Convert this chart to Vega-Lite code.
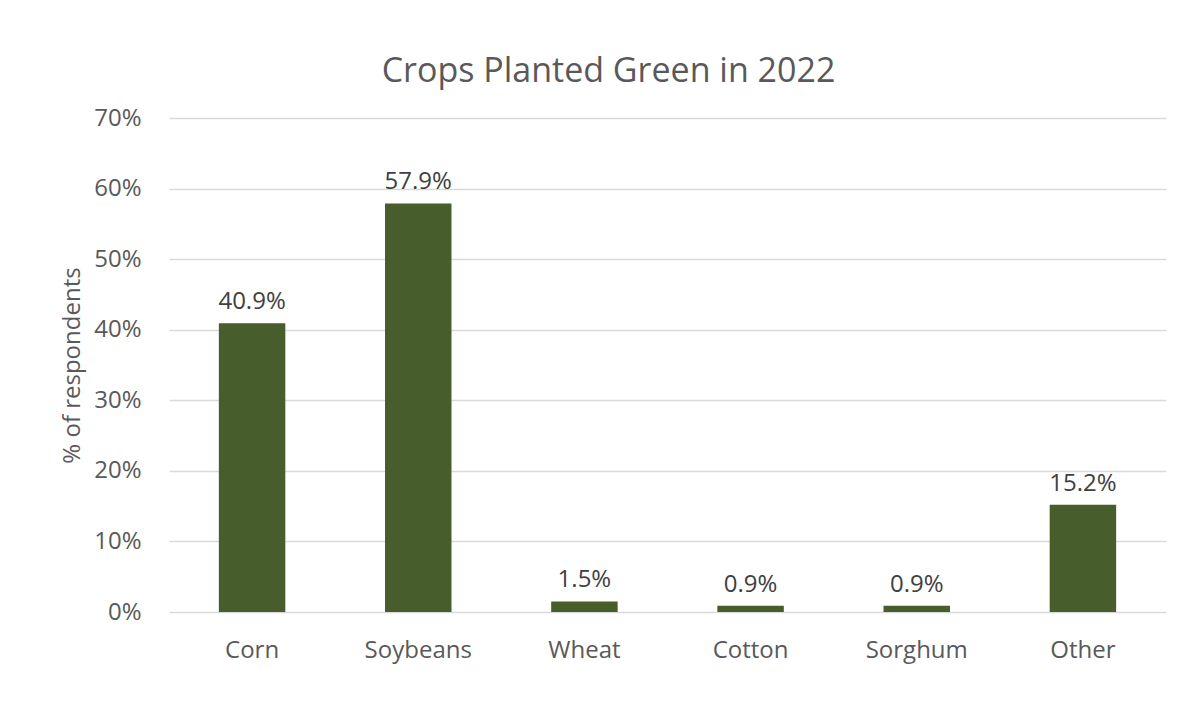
{
  "$schema": "https://vega.github.io/schema/vega-lite/v6.json",
  "autosize": "none",
  "width": 997,
  "height": 494,
  "padding": {"left": 169, "top": 118, "right": 32, "bottom": 98},
  "background": "white",
  "config": {"view": {"stroke": null}, "font": "Open Sans"},
  "title": {
    "text": "Crops Planted Green in 2022",
    "fontSize": 34,
    "fontWeight": "normal",
    "color": "#595959",
    "font": "Open Sans",
    "anchor": "middle",
    "frame": "group",
    "dx": -59,
    "offset": 17
  },
  "data": {
    "values": [
      {"crop": "Corn", "share": 0.409},
      {"crop": "Soybeans", "share": 0.579},
      {"crop": "Wheat", "share": 0.015},
      {"crop": "Cotton", "share": 0.009},
      {"crop": "Sorghum", "share": 0.009},
      {"crop": "Other", "share": 0.152}
    ]
  },
  "encoding": {
    "x": {
      "field": "crop",
      "type": "nominal",
      "sort": null,
      "scale": {"paddingInner": 0.6, "paddingOuter": 0.3},
      "axis": {
        "title": null,
        "labelAngle": 0,
        "labelFontSize": 24,
        "labelColor": "#595959",
        "labelPadding": 26,
        "ticks": false,
        "domain": false
      }
    },
    "y": {
      "field": "share",
      "type": "quantitative",
      "scale": {"domain": [0, 0.7]},
      "axis": {
        "title": "% of respondents",
        "titleFontSize": 24,
        "titleFontWeight": "normal",
        "titleColor": "#595959",
        "titlePadding": 9,
        "format": ".0%",
        "values": [0, 0.1, 0.2, 0.3, 0.4, 0.5, 0.6, 0.7],
        "labelOverlap": false,
        "labelFontSize": 24,
        "labelColor": "#595959",
        "labelPadding": 28,
        "ticks": false,
        "domain": false,
        "grid": true,
        "gridColor": "#D9D9D9",
        "gridWidth": 1.3
      }
    }
  },
  "layer": [
    {"mark": {"type": "bar", "color": "#485D2C"}},
    {
      "mark": {"type": "text", "baseline": "alphabetic", "dy": -14, "fontSize": 24, "color": "#404040"},
      "encoding": {"text": {"field": "share", "type": "quantitative", "format": ".1%"}}
    }
  ]
}
